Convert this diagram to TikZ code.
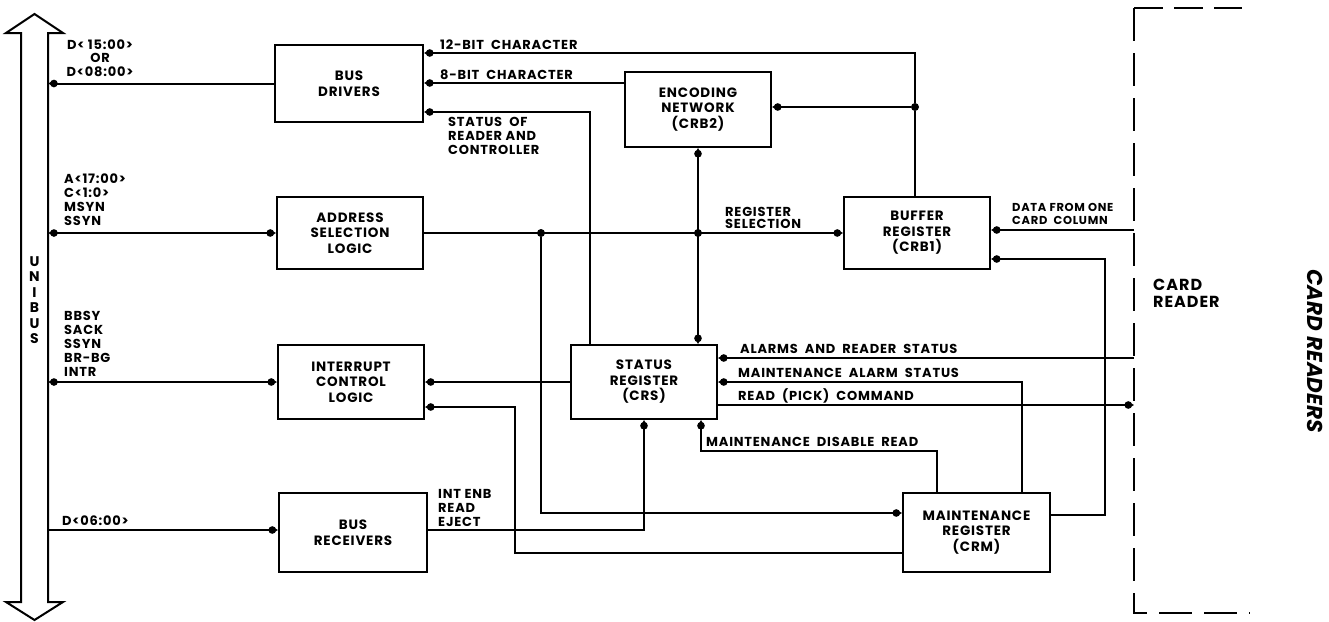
\documentclass[tikz,border=0pt]{standalone}
\usepackage{fontspec}
\setmainfont{Poppins}[LetterSpace=6]
\usetikzlibrary{arrows.meta}
\tikzset{
  dp/.tip={Circle[length=7.5pt,sep=-3pt] Triangle[length=5pt,width=5.5pt]},
}
\begin{document}
\begin{tikzpicture}[x=1pt,y=-1pt,
  every node/.style={font=\fontsize{13}{14}\selectfont\bfseries},
  box/.style={draw, line width=2pt, inner sep=0pt, align=center, font=\fontsize{13.5}{15.5}\selectfont\bfseries},
  sig/.style={line width=2pt},
  lbl/.style={anchor=west, inner sep=0pt, align=left},
  lbln/.style={anchor=north west, inner sep=0pt, align=left},
  jdot/.style={circle, fill, inner sep=0pt, minimum size=8pt}
]
\useasboundingbox (0,0) rectangle (1329,621);

% UNIBUS hollow double arrow
\draw[line width=2pt, line join=miter] (34.5,14) -- (63,33) -- (48,33) -- (48,602) -- (63,602) -- (34.5,620) -- (6,602) -- (21,602) -- (21,33) -- (6,33) -- cycle;
\node[inner sep=0pt, minimum width=27pt, minimum height=569pt] (bus) at (34.5,317.5) {};
\node[align=center, inner sep=0pt, font=\fontsize{14}{15.5}\selectfont\bfseries] (unibus) at (34.5,300) {U\\N\\I\\B\\U\\S};

% boxes
\node[box, minimum width=148pt, minimum height=77pt] (bd)  at (349,83.5)  {BUS\\DRIVERS};
\node[box, minimum width=146pt, minimum height=72pt] (asl) at (350,233)   {ADDRESS\\SELECTION\\LOGIC};
\node[box, minimum width=146pt, minimum height=74pt] (icl) at (351,382)   {INTERRUPT\\CONTROL\\LOGIC};
\node[box, minimum width=148pt, minimum height=79pt] (br)  at (353,532.5) {BUS\\RECEIVERS};
\node[box, minimum width=146pt, minimum height=75pt] (enc) at (698,109.5) {ENCODING\\NETWORK\\(CRB2)};
\node[box, minimum width=146pt, minimum height=74pt] (sr)  at (644,382)   {STATUS\\REGISTER\\(CRS)};
\node[box, minimum width=146pt, minimum height=72pt] (buf) at (917,233)   {BUFFER\\REGISTER\\(CRB1)};
\node[box, minimum width=147pt, minimum height=79pt] (mr)  at (976.5,532.5) {MAINTENANCE\\REGISTER\\(CRM)};

% card reader dashed outline
\coordinate (rdr) at (1134,310);
\draw[line width=2pt, dash pattern=on 29pt off 11pt] (1134,8) -- (1242,8);
\draw[line width=2pt, dash pattern=on 33pt off 12pt] (1134,8) -- (1134,613) -- (1250,613);

% junction dots
\node[jdot] (j1) at (541,233) {};
\node[jdot] (j2) at (enc.south |- asl.east) {};
\node[jdot] (j3) at (915,107) {};

% connectors
\draw[sig,-{dp}] (bd.west) -- (bus.east |- bd.west);
\draw[sig,-{dp}] (buf.north -| j3) -- (j3) -- (j3 |- 0,53) -- (bd.east |- 0,53);
\draw[sig,-{dp}] (j3) -- (enc.east |- j3);
\draw[sig,-{dp}] (enc.west |- 0,83) -- (bd.east |- 0,83);
\draw[sig,-{dp}] (sr.north -| 590,0) -- (590,112) -- (bd.east |- 0,112);
\draw[sig,{dp}-{dp}] (bus.east |- asl.west) -- (asl.west);
\draw[sig,-{dp}] (asl.east) -- (buf.west);
\draw[sig,{dp}-{dp}] (enc.south) -- (enc.south |- sr.north);
\draw[sig,-{dp}] (j1) -- (j1 |- 0,513) -- (mr.west |- 0,513);
\draw[sig,{dp}-{dp}] (bus.east |- icl.west) -- (icl.west);
\draw[sig,-{dp}] (sr.west) -- (icl.east);
\draw[sig,-{dp}] (mr.west |- 0,553) -- (515,553) -- (515,407) -- (icl.east |- 0,407);
\draw[sig,-{dp}] (bus.east |- 0,530) -- (br.west |- 0,530);
\draw[sig,-{dp}] (br.east |- 0,530) -| (sr.south);
\draw[sig,-{dp}] (mr.north -| 937,0) |- (701,451) -- (sr.south -| 701,0);
\draw[sig,-{dp}] (mr.north -| 1022,0) |- (sr.east);
\draw[sig,-{dp}] (rdr |- 0,358) -- (sr.east |- 0,358);
\draw[sig,-{dp}] (sr.east |- 0,405) -- (rdr |- 0,405);
\draw[sig,-{dp}] (rdr |- 0,230) -- (buf.east |- 0,230);
\draw[sig,-{dp}] (mr.east |- 0,515) -| (1105,259) -- (buf.east |- 0,259);

% labels
\node[align=center, inner sep=0pt, font=\fontsize{13}{13.5}\selectfont\bfseries] (ld15) at (100,58) {D< 15:00>\\OR\\D<08:00>};
\node[lbln] (la17) at (64,174) {A<17:00>\\C<1:0>\\MSYN\\SSYN};
\node[lbln] (lbbsy) at (64,311) {BBSY\\SACK\\SSYN\\BR-BG\\INTR};
\node[lbl] (ld06) at (62,521) {D<06:00>};
\node[lbl] (l12) at (440,45) {12-BIT\ \ CHARACTER};
\node[lbl] (l8) at (440,75) {8-BIT\ \ CHARACTER};
\node[lbln] (lstat) at (448,117) {STATUS\ \ OF\\READER AND\\CONTROLLER};
\node[lbln, font=\fontsize{13}{12}\selectfont\bfseries] (lreg) at (725,207) {REGISTER\\SELECTION};
\node[lbln, font=\fontsize{11.5}{13.5}\selectfont\bfseries] (ldata) at (1012,203) {DATA\ FROM\ ONE\\CARD\ \ COLUMN};
\node[lbl] (lalarm) at (740,349) {ALARMS\ \ AND\ \ READER\ \ STATUS};
\node[lbl] (lmas) at (738,373) {MAINTENANCE\ \ ALARM\ \ STATUS};
\node[lbl] (lread) at (738,396) {READ\ \ (PICK)\ \ COMMAND};
\node[lbl] (lmdr) at (706,442) {MAINTENANCE\ \ DISABLE\ \ READ};
\node[lbln] (lint) at (438,489) {INT ENB\\READ\\EJECT};
\node[lbln, font=\fontsize{16}{17}\selectfont\bfseries] (lcard) at (1153,279) {CARD\\READER};
\node[rotate=-90, inner sep=0pt, font=\fontsize{21.5}{24}\selectfont\bfseries\itshape\addfontfeatures{LetterSpace=0}] (lcrs) at (1315,351) {CARD READERS};
\end{tikzpicture}
\end{document}
